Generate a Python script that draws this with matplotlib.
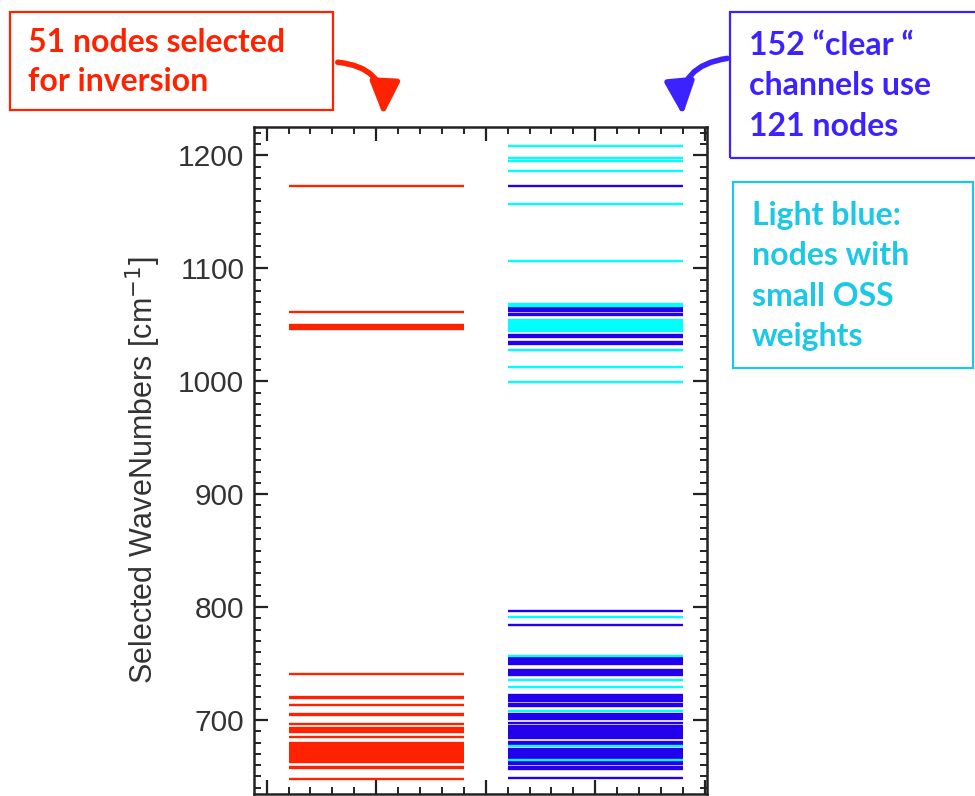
import matplotlib
matplotlib.use("Agg")
import matplotlib.pyplot as plt
from matplotlib.patches import Rectangle, FancyArrowPatch
from matplotlib.ticker import MultipleLocator

# Wavenumbers (cm^-1) of the 51 nodes retained for the inversion
red_nodes = [1173.0, 1061.5, 1046.5, 1047.5, 1048.5, 1049.5, 741.0,
             719.5, 720.5, 713.0, 704.5, 705.5, 696.5, 689.0, 691.0, 693.0, 685.0,
             662.8, 663.4, 664.0, 664.5, 665.1, 665.6, 666.2, 666.8, 667.3, 667.9,
             668.4, 669.0, 669.6, 670.1, 670.7, 671.2, 671.8, 672.4, 672.9, 673.5,
             674.0, 674.6, 675.2, 675.7, 676.3, 676.8, 677.4, 678.0, 678.5, 679.1,
             679.6, 657.5, 658.5, 648.0]

# Nodes used by the clear channels (dark blue)
blue_nodes = [1173.3, 1058.5, 1060.0, 1062.5, 1063.5, 1064.5, 1065.5,
              1039.0, 1040.0, 1041.0, 1033.0, 1034.5, 796.5, 783.9,
              750.0, 751.0, 752.0, 753.0, 754.0, 755.0,
              739.5, 740.5, 741.5, 742.5, 743.5, 744.5,
              716.5, 717.5, 718.5, 719.5, 720.5, 721.5, 722.5, 712.5, 714.0,
              700.5, 701.5, 702.5, 703.5, 704.5, 705.5, 695.0, 697.0,
              688.0, 689.0, 690.0, 691.0, 692.0, 693.0, 684.0, 686.0,
              678.2, 679.2, 680.2,
              666.5, 667.5, 668.5, 669.5, 670.5, 671.5, 672.5, 673.5, 674.5,
              661.0, 662.5, 656.8, 657.8, 658.8, 648.3]

# Nodes with small OSS weights (light blue)
cyan_nodes = [1208.7, 1195.5, 1197.5, 1186.5, 1156.8, 1106.6, 1067.0, 1068.5,
              1044.5, 1045.5, 1046.5, 1047.5, 1048.5, 1049.5, 1050.5, 1051.5,
              1052.5, 1053.5, 1054.5, 1027.7, 1013.0, 999.0,
              791.5, 756.7, 735.4, 729.0, 708.2, 677.0, 664.6]

y_ticks = [700, 800, 900, 1000, 1100, 1200]

RED = "#ff2200"
BLUE = "#2200ee"
CYAN = "#00ffff"
LBLUE_TXT = "#1cc8e6"
BLUE_TXT = "#3b22ff"

fig = plt.figure(figsize=(9.75, 7.96), dpi=100)
ax = fig.add_axes([254 / 975, 2 / 796, 453 / 975, 667 / 796])

ax.hlines(red_nodes, 0.2, 1.8, color=RED, lw=1.7)
ax.hlines(blue_nodes, 2.2, 3.8, color=BLUE, lw=1.7)
ax.hlines(cyan_nodes, 2.2, 3.8, color=CYAN, lw=1.7)

ax.set_xlim(-0.115, 4.02)
ax.set_ylim(634.5, 1225.2)
ax.set_yticks(y_ticks)
ax.yaxis.set_minor_locator(MultipleLocator(10))
ax.set_xticks([0, 1, 2, 3, 4])
ax.xaxis.set_minor_locator(MultipleLocator(0.2))
ax.tick_params(axis="both", which="both", direction="in",
               top=True, right=True, labelbottom=False, colors="#222222")
ax.tick_params(axis="both", which="major", length=10, width=1.6)
ax.tick_params(axis="both", which="minor", length=5, width=1.4)
ax.tick_params(axis="y", labelsize=21.5, pad=7)
for lab in ax.get_yticklabels():
    lab.set_family("Liberation Sans")
    lab.set_color("#333333")
for sp in ax.spines.values():
    sp.set_linewidth(1.8)
    sp.set_color("#222222")

ax.set_ylabel("Selected WaveNumbers [cm$^{-1}$]", fontsize=22,
              family="Liberation Sans", color="#333333", labelpad=8)
ax.yaxis.set_label_coords(-0.2, 0.485)

W, H = 975.0, 796.0


def box(x0, y0, x1, y1, color):
    fig.patches.append(Rectangle((x0 / W, 1 - y1 / H), (x1 - x0) / W, (y1 - y0) / H,
                                 transform=fig.transFigure, fill=False,
                                 edgecolor=color, lw=1.6))


def note(x, y, s, color, spacing):
    fig.text(x / W, 1 - y / H, s, color=color, fontsize=23, family="Lato",
             weight="bold", va="top", ha="left", linespacing=spacing)


box(10, 12, 333, 110, RED)
note(28, 28, "51 nodes selected\nfor inversion", RED, 1.42)

box(730, 12, 985, 158, BLUE_TXT)
note(749, 31, "152 \u201cclear \u201c\nchannels use\n121 nodes", BLUE_TXT, 1.47)

box(733, 182, 973, 368, LBLUE_TXT)
note(752, 201, "Light blue:\nnodes with\nsmall OSS\nweights", LBLUE_TXT, 1.47)

# curved pointers from the notes down to each column
fig.patches.append(FancyArrowPatch((335 / W, 1 - 62 / H), (383 / W, 1 - 118 / H),
                                   transform=fig.transFigure,
                                   connectionstyle="arc3,rad=-0.5",
                                   arrowstyle="-|>,head_length=10,head_width=4.5",
                                   color=RED, lw=4, mutation_scale=2))
fig.patches.append(FancyArrowPatch((730 / W, 1 - 58 / H), (683 / W, 1 - 118 / H),
                                   transform=fig.transFigure,
                                   connectionstyle="arc3,rad=0.5",
                                   arrowstyle="-|>,head_length=10,head_width=4.5",
                                   color=BLUE_TXT, lw=4, mutation_scale=2))

fig.savefig("out.png", dpi=100)
